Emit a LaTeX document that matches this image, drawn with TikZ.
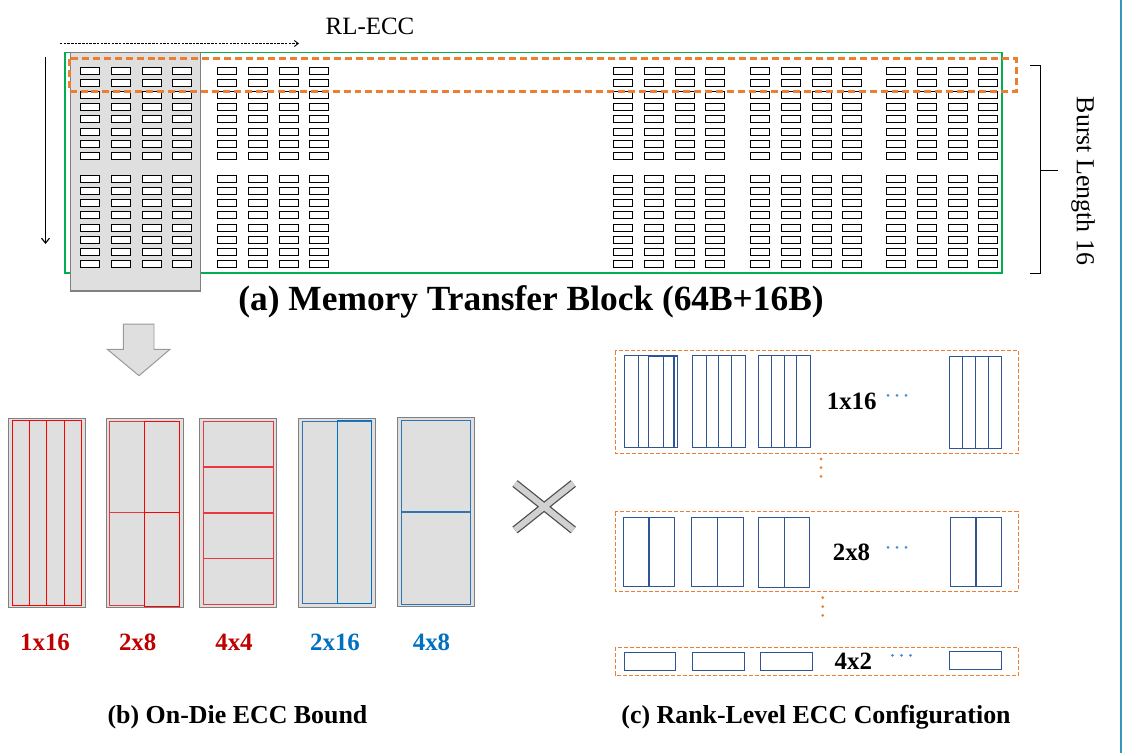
\documentclass[tikz,border=0pt]{standalone}
\usepackage{fontspec}
\setmainfont{Liberation Serif}
\usetikzlibrary{arrows.meta}
\definecolor{cgreen}{HTML}{00B050}
\definecolor{corange}{HTML}{ED7D31}
\definecolor{cgrayfill}{HTML}{DFDFDF}
\definecolor{cgrayline}{HTML}{808080}
\definecolor{cred}{HTML}{FF0000}
\definecolor{credl}{HTML}{E8373E}
\definecolor{cbluel}{HTML}{2E75B6}
\definecolor{cblue}{HTML}{0070C0}
\definecolor{cdblue}{HTML}{2F5597}
\definecolor{clabred}{HTML}{C00000}
\definecolor{cteal}{HTML}{3399BB}
\definecolor{cdots}{HTML}{4A8CCB}
\begin{document}
\begin{tikzpicture}[x=1bp,y=-1bp,
  cell/.style={draw=black,fill=white,line width=1.4bp},
  odbox/.style={draw=cgrayline,fill=cgrayfill,line width=1.3},
  rlbox/.style={draw=corange,dashed,dash pattern=on 4pt off 2pt,line width=1},
  bl/.style={draw=cdblue,line width=1.2},
  lbl/.style={font=\fontsize{25}{30}\selectfont\bfseries,inner sep=0pt},
  captxt/.style={font=\fontsize{26}{31}\selectfont\bfseries,inner sep=0pt},
  odot/.style={fill=corange},
  bdot/.style={fill=cdots}]
\useasboundingbox (0,0) rectangle (1123,753);

% right edge line
\draw[cteal,line width=1.3] (1121,0) -- (1121,753);

% top arrows
\coordinate (ha) at (60,43.5);
\coordinate (hb) at (299,43.5);
\draw[line width=0.9,dash pattern=on 2.5pt off 1.2pt,-{Straight Barb[length=4pt,width=6pt]}] (ha) -- (hb);
\node[font=\fontsize{25}{30}\selectfont,inner sep=0pt] (rl) at (370,26) {RL-ECC};
\coordinate (va) at (45.5,57);
\coordinate (vb) at (45.5,244);
\draw[line width=1.1,-{Straight Barb[length=5pt,width=8pt]}] (va) -- (vb);

% green block
\draw[cgreen,line width=1.3] (65,52.5) rectangle (1002,273);
% gray column
\draw[odbox] (70.5,52.5) rectangle (200.5,291);

% cells
\foreach \gx in {80.5,217.5,613.5,750.5,886.5}{
  \foreach \dx in {0,31,62,92}{
    \foreach \ry in {67.5,79.5,91.5,103.5,115.5,128.5,140.5,152.5,175.5,187.5,199.5,211.5,224.5,236.5,248.5,260.5}{
      \draw[cell] (\gx+\dx,\ry) rectangle ++(19,7);
    }
  }
}
% orange dashed row
\draw[corange,line width=2.6,dash pattern=on 7pt off 4pt] (69.3,58.7) rectangle (1016.3,91.3);

% burst bracket
\draw[line width=1.3] (1030,65.5) -- (1040.5,65.5) -- (1040.5,273.5) -- (1030,273.5);
\draw[line width=1.3] (1040.5,170.5) -- (1058,170.5);
\node[font=\fontsize{26}{31}\selectfont,rotate=-90,inner sep=0pt] (bl16) at (1083,181) {Burst Length 16};

% title
\node[font=\fontsize{35.5}{42}\selectfont\bfseries,inner sep=0pt] (ta) at (531,302) {(a) Memory Transfer Block (64B+16B)};

% down arrow
\draw[fill=cgrayfill,draw=cgrayline!80,line width=1] (123.3,324) -- (154,324) -- (154,349.3) -- (170,349.3) -- (139,375.7) -- (107.3,349.3) -- (123.3,349.3) -- cycle;

% on-die boxes
% box 1
\draw[odbox] (8.3,418.3) rectangle (85.7,607.3);
\draw[cred,line width=1.3] (12.3,420.3) rectangle (81.3,605.3);
\draw[cred,line width=1.3] (29.3,420.3) -- (29.3,605.3) (46.3,420.3) -- (46.3,605.3) (64.3,420.3) -- (64.3,605.3);
% box 2
\draw[odbox] (106.3,418.3) rectangle (183.3,607.3);
\draw[credl,line width=1] (109.3,421.3) rectangle (144.3,605.3) (109.3,512.3) -- (144.3,512.3);
\draw[cred,line width=1.3] (144.3,421.3) rectangle (179.3,512.3) (144.3,512.3) rectangle (179.3,606.3);
% box 3
\draw[odbox] (199.3,418.3) rectangle (276.3,607.3);
\draw[credl,line width=1.1] (203.3,421.3) rectangle (273.3,604.3);
\draw[credl,line width=1.6] (203.3,466.7) -- (273.3,466.7) (203.3,513) -- (273.3,513);
\draw[credl,line width=1] (203.3,558.3) -- (273.3,558.3);
% box 4
\draw[odbox] (298.3,418.3) rectangle (375.7,607.3);
\draw[cbluel,line width=1.1] (302.3,421.3) rectangle (371.3,603.3);
\draw[cblue,line width=1.3] (337.3,420.3) rectangle (371.3,603.3);
% box 5
\draw[odbox] (397.3,417.3) rectangle (474.3,606.3);
\draw[cbluel,line width=1.1] (401.3,420.3) rectangle (470.3,604.3);
\draw[cbluel,line width=1.7] (401.3,511.7) -- (470.3,511.7);

% on-die labels
\node[lbl,text=clabred] (l1) at (45,642) {1x16};
\node[lbl,text=clabred] (l2) at (137.7,642) {2x8};
\node[lbl,text=clabred] (l3) at (234,642) {4x4};
\node[lbl,text=cblue] (l4) at (335,642) {2x16};
\node[lbl,text=cblue] (l5) at (431.5,642) {4x8};

% cross
\coordinate (xa) at (515,483.5);
\coordinate (xb) at (573.3,530);
\coordinate (xc) at (573.3,483.5);
\coordinate (xd) at (515,530);
\draw[line width=8.5,draw=black!70] (xa) -- (xb) (xc) -- (xd);
\draw[line width=6,draw=black!18] (xa) -- (xb) (xc) -- (xd);

% rank level boxes
\draw[rlbox] (615,350.7) rectangle (1018.3,453.3);
\draw[rlbox] (615,511.7) rectangle (1018.3,591);
\draw[rlbox] (615,647.3) rectangle (1018.3,675);

% 1x16 group
\draw[bl] (624.3,355.3) rectangle (674,447.3) (638.3,355.3) -- (638.3,447.3);
\draw[bl,line width=1.4] (648.3,356) rectangle (677.3,447.7) (663.3,356) -- (663.3,447.7);
\draw[bl,line width=1.4] (692.3,355.3) rectangle (745.3,447.3);
\draw[bl] (706.3,355.3) -- (706.3,447.3) (718.7,355.3) -- (718.7,447.3) (731.7,355.3) -- (731.7,447.3);
\draw[bl] (758.3,355.3) rectangle (810.7,447.3) (771.3,355.3) -- (771.3,447.3) (784.3,355.3) -- (784.3,447.3) (796.7,355.3) -- (796.7,447.3);
\draw[bl] (949.3,356.3) rectangle (1001.7,448.3) (962.3,356.3) -- (962.3,448.3) (975.3,356.3) -- (975.3,448.3) (988.3,356.3) -- (988.3,448.3);
\node[lbl] (r1) at (851.7,401.7) {1x16};
\foreach \x in {888,897,906} \fill[bdot] (\x,395.3) circle (1.5);

% 2x8 group
\draw[bl] (623.3,517.3) rectangle (674.7,586.3);
\draw[bl,line width=1.6] (649,517.3) -- (649,586.3);
\draw[bl] (691.3,517.3) rectangle (743.3,586.3) (717.7,517.3) -- (717.7,586.3);
\draw[bl] (758.3,517.3) rectangle (809.3,587.3) (784.3,517.3) -- (784.3,587.3);
\draw[bl] (950.3,517.3) rectangle (1001.7,586.3);
\draw[bl,line width=1.6] (976,517.3) -- (976,586.3);
\node[lbl] (r2) at (851.5,552.3) {2x8};
\foreach \x in {888,897,906} \fill[bdot] (\x,547.3) circle (1.5);

% 4x2 group
\draw[bl] (624.3,652.3) rectangle (675.3,670.3);
\draw[bl] (692.3,652.3) rectangle (744.3,670.3);
\draw[bl] (760.3,652.3) rectangle (812.3,670.3);
\draw[bl] (949.3,651.3) rectangle (1001.7,669.3);
\node[lbl] (r3) at (853.3,661.7) {4x2};
\foreach \x in {892.5,901.5,910.5} \fill[bdot] (\x,655.3) circle (1.5);

% orange vertical dots
\foreach \y in {459,467.7,476.3} \fill[odot] (821,\y) circle (1.5);
\foreach \y in {597.7,606.7,615.3} \fill[odot] (822.7,\y) circle (1.5);

% captions
\node[captxt] (cb) at (237.5,717) {(b) On-Die ECC Bound};
\node[captxt] (cc) at (816,717) {(c) Rank-Level ECC Configuration};
\end{tikzpicture}
\end{document}
